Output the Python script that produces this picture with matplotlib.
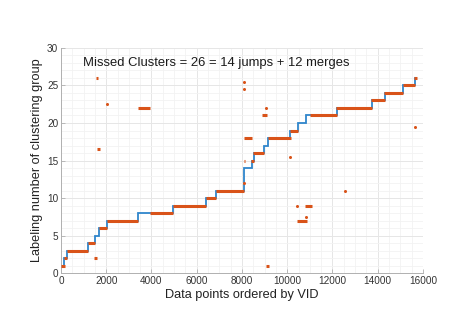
import matplotlib.pyplot as plt
from matplotlib.ticker import MultipleLocator

plt.rcParams['font.family'] = ['Liberation Sans', 'DejaVu Sans']

# ground truth label (step line): edges along VID order and the label on each step
gt_edges = [0, 150, 250, 1200, 1500, 1665, 2030, 3410, 4935, 6420, 6860, 8090, 8100,
            8110, 8430, 8510, 8960, 9160, 10130, 10460, 10830, 12210, 13730, 14320,
            15130, 15640, 15750]
gt_labels = [1, 2, 3, 4, 5, 6, 7, 8, 9, 10, 11, 12, 13, 14, 15, 16, 17, 18, 19, 20,
             21, 22, 23, 24, 25, 26]

# predicted labels, runs of points with same label
run_start = [0, 130, 250, 1200, 1480, 1550, 1580, 1665, 2030, 3400, 3930, 4935, 6420,
             6860, 8080, 8100, 8380, 8500, 8900, 9060, 9160, 10120, 10420, 10800, 11000,
             12160, 13700, 14280, 15110, 15620]
run_end = [180, 270, 1200, 1500, 1600, 1650, 1720, 2040, 3410, 3950, 4935, 6430, 6870,
           8090, 8130, 8450, 8530, 8960, 9090, 9200, 10150, 10480, 10860, 11080, 12210,
           13730, 14320, 15130, 15640, 15750]
run_label = [1, 2, 3, 4, 2, 26, 16.5, 6, 7, 22, 8, 9, 10, 11, 15, 18, 15, 16, 21, 1,
             18, 19, 7, 9, 21, 22, 23, 24, 25, 26]

# isolated predicted points
dot_x = [2045, 8090, 8090, 8090, 9060, 10120, 10440, 10810, 12550, 15630]
dot_y = [22.5, 12, 25.5, 24.5, 22, 15.5, 9, 7.5, 11, 19.5]

blue = '#2f86cc'
orange = '#D95319'

fig = plt.figure(figsize=(4.68, 3.31), dpi=100)
ax = fig.add_axes([0.1303, 0.1752, 0.7735, 0.6798])

ax.stairs(gt_labels, gt_edges, baseline=None, color=blue, lw=1.3, zorder=2)
for s, e, l in zip(run_start, run_end, run_label):
    ax.plot([s, e], [l, l], color=orange, lw=2.2, solid_capstyle='butt', zorder=3)
ax.plot(dot_x, dot_y, 'o', color=orange, ms=2.2, mec='none', zorder=3)

ax.text(970, 28.0, 'Missed Clusters = 26 = 14 jumps + 12 merges', fontsize=9.4,
        color='#1a1a1a', va='center')

ax.set_xlim(0, 16000)
ax.set_ylim(0, 30)
ax.xaxis.set_major_locator(MultipleLocator(2000))
ax.xaxis.set_minor_locator(MultipleLocator(500))
ax.yaxis.set_major_locator(MultipleLocator(5))
ax.yaxis.set_minor_locator(MultipleLocator(1))
ax.grid(True, which='major', color='#e6e6e6', lw=0.7)
ax.grid(True, which='minor', color='#f2f2f2', lw=0.6)
ax.set_axisbelow(True)

for side in ['top', 'right']:
    ax.spines[side].set_visible(False)
for side in ['left', 'bottom']:
    ax.spines[side].set_color('#b0b0b0')
    ax.spines[side].set_linewidth(0.7)
ax.tick_params(which='major', direction='in', length=3, width=0.6, color='#b0b0b0',
               labelsize=7.2, labelcolor='#333333', pad=2)
ax.tick_params(which='minor', length=0)

ax.set_xlabel('Data points ordered by VID', fontsize=9.2, color='#222222', labelpad=2)
ax.set_ylabel('Labeling number of clustering group', fontsize=9.2, color='#222222', labelpad=3)

fig.savefig('out.png', dpi=100)
